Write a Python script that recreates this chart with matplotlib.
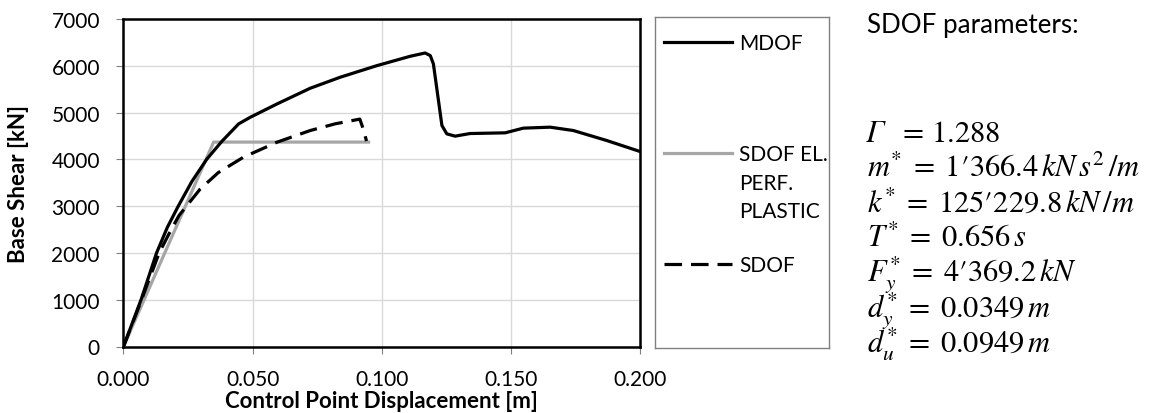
import numpy as np
import matplotlib
matplotlib.use('Agg')
import matplotlib.pyplot as plt

# data
mdof_x = [0.0, 0.0068, 0.0128, 0.0170, 0.0212, 0.0265, 0.0322, 0.0380, 0.0446, 0.0491,
          0.0595, 0.0723, 0.0839, 0.0981, 0.1110, 0.1168, 0.1188, 0.1200, 0.1233,
          0.1252, 0.1284, 0.1342, 0.1478, 0.1548, 0.1652, 0.1742, 0.1871, 0.2000]
mdof_y = [0, 1000, 2000, 2550, 3000, 3530, 4000, 4380, 4759, 4900,
          5186, 5520, 5755, 6003, 6203, 6274, 6217, 6040, 4723,
          4545, 4496, 4552, 4567, 4667, 4688, 4616, 4403, 4168]

ep_x = [0.0, 0.0349, 0.0949]
ep_y = [0, 4369.2, 4369.2]

sdof_x = [0.0, 0.0070, 0.0138, 0.0180, 0.0215, 0.0296, 0.0367, 0.0465, 0.0595,
          0.0723, 0.0820, 0.0896, 0.0915, 0.0928, 0.0941]
sdof_y = [0, 1000, 2000, 2450, 2800, 3360, 3717, 4048, 4368,
          4616, 4760, 4840, 4860, 4656, 4392]

legend_labels = ['MDOF', 'SDOF EL.\nPERF.\nPLASTIC', 'SDOF']
param_title = 'SDOF parameters:'
gamma_sym = '\u0393'
gamma_val = r'$=\,1.288$'
param_lines = [r"$m^{*}\;=\;1{\prime}366.4\,kN\,s^{2}\,/m$",
               r"$k^{*}\;=\;125{\prime}229.8\,kN\,/m$",
               r'$T^{*}\;=\;0.656\,s$',
               r"$F_{y}^{*}\;=\;4{\prime}369.2\,kN$",
               r'$d_{y}^{*}\;=\;0.0349\,m$',
               r'$d_{u}^{*}\;=\;0.0949\,m$']

plt.rcParams['font.family'] = ['Lato', 'DejaVu Sans']
plt.rcParams['mathtext.fontset'] = 'stix'

W, H = 1165, 414
fig = plt.figure(figsize=(W / 100, H / 100), dpi=100)
ax = fig.add_axes([123.5 / W, (H - 347.5) / H, (640 - 123.5) / W, (347.5 - 20) / H])

ax.plot(mdof_x, mdof_y, color='black', lw=2.3, solid_joinstyle='round', zorder=4)
ax.plot(ep_x, ep_y, color='#a6a6a6', lw=2.3, zorder=3)
ax.plot(sdof_x, sdof_y, color='black', lw=2.3, dashes=(5.5, 2.8), zorder=5)

ax.set_xlim(0, 0.2)
ax.set_ylim(0, 7000)
xt = np.arange(0, 0.2001, 0.05)
ax.set_xticks(xt)
ax.set_xticklabels(['%.3f' % v for v in xt])
ax.set_yticks(np.arange(0, 7001, 1000))
ax.grid(True, color='#d9d9d9', lw=1.0)
ax.set_axisbelow(True)
for s in ax.spines.values():
    s.set_color('black')
    s.set_linewidth(1.8)
ax.tick_params(labelsize=15, length=5, color='#808080')
ax.tick_params(axis='x', pad=11)
ax.tick_params(axis='y', pad=12)
ax.set_xlabel('Control Point Displacement [m]', fontsize=16, fontweight='bold')
ax.set_ylabel('Base Shear [kN]', fontsize=16, fontweight='bold')
ax.xaxis.set_label_coords(0.5, (347.5 - 391) / 327.5)
ax.yaxis.set_label_coords((29 - 123.5) / 516.5, 0.5)

# legend box drawn as its own axes
lax = fig.add_axes([655 / W, (H - 349) / H, (829 - 655) / W, (349 - 18) / H])
lax.set_xlim(0, 1)
lax.set_ylim(1, 0)
lax.set_xticks([])
lax.set_yticks([])
for s in lax.spines.values():
    s.set_color('#808080')
    s.set_linewidth(1.0)
ly = [0.0755, 0.411, 0.746]
lstyle = [dict(color='black'), dict(color='#a6a6a6'), dict(color='black', dashes=(5.5, 2.8))]
for yy, lab, st in zip(ly, legend_labels, lstyle):
    lax.plot([0.052, 0.443], [yy, yy], lw=2.3, **st)
    lax.text(0.483, yy - 0.028, lab, fontsize=15, va='top', ha='left', linespacing=1.55)

# parameter block on the right
fig.text(867 / W, 1 - 33.5 / H, param_title, fontsize=18.7, va='baseline', ha='left')
fig.text(866 / W, 1 - 141.7 / H, gamma_sym, family='STIXGeneral', style='italic',
         fontsize=22, va='baseline', ha='left')
fig.text(898 / W, 1 - 141.7 / H, gamma_val, fontsize=22, va='baseline', ha='left')
for i, line in enumerate(param_lines):
    fig.text(867 / W, 1 - (141.7 + 35.1 * (i + 1)) / H, line, fontsize=22,
             va='baseline', ha='left')

fig.savefig('out.png', dpi=100)
